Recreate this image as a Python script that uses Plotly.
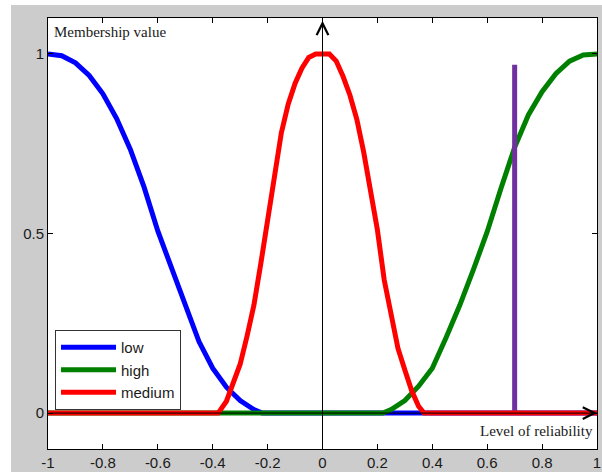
import plotly.graph_objects as go

# ---- data ----
low_x = [-1.0, -0.95, -0.9, -0.85, -0.8, -0.75, -0.7, -0.65, -0.6, -0.55, -0.5,
         -0.45, -0.4, -0.35, -0.3, -0.25, -0.22, 1.0]
low_y = [1.0, 0.995, 0.975, 0.94, 0.889, 0.82, 0.734, 0.629, 0.507, 0.401, 0.295,
         0.199, 0.125, 0.072, 0.035, 0.01, 0.0, 0.0]

high_x = [-1.0, 0.22, 0.25, 0.3, 0.35, 0.4, 0.45, 0.5, 0.55, 0.6, 0.65, 0.7,
          0.75, 0.8, 0.85, 0.9, 0.95, 1.0]
high_y = [0.0, 0.0, 0.01, 0.035, 0.075, 0.125, 0.21, 0.3, 0.4, 0.505, 0.625, 0.74,
          0.83, 0.895, 0.945, 0.98, 0.997, 1.0]

medium_x = [-1.0, -0.38, -0.35, -0.325, -0.3, -0.275, -0.25, -0.225, -0.2, -0.175,
            -0.15, -0.125, -0.1, -0.075, -0.05, -0.025, 0.0, 0.025, 0.05, 0.075,
            0.1, 0.125, 0.15, 0.175, 0.2, 0.225, 0.25, 0.275, 0.3, 0.325, 0.35,
            0.37, 1.0]
medium_y = [0.0, 0.0, 0.033, 0.08, 0.136, 0.214, 0.30, 0.415, 0.535, 0.67,
            0.78, 0.86, 0.918, 0.96, 0.99, 1.0, 1.0, 1.0, 0.98, 0.937,
            0.885, 0.818, 0.727, 0.625, 0.51, 0.37, 0.266, 0.18, 0.12, 0.062, 0.019,
            0.0, 0.0]

marker_x = [0.7, 0.7]
marker_y = [0.0, 0.97]

x_ticks = [-1, -0.8, -0.6, -0.4, -0.2, 0, 0.2, 0.4, 0.6, 0.8, 1]
x_tick_text = ["-1", "-0.8", "-0.6", "-0.4", "-0.2", "0", "0.2", "0.4", "0.6", "0.8", "1"]
y_ticks = [0, 0.5, 1]
y_tick_text = ["0", "0.5", "1"]

sans = "Liberation Sans, Arial, sans-serif"
serif = "Liberation Serif, Times New Roman, serif"

fig = go.Figure()
fig.add_trace(go.Scatter(x=low_x, y=low_y, mode="lines", name="low",
                         line=dict(color="#0000ff", width=5)))
fig.add_trace(go.Scatter(x=high_x, y=high_y, mode="lines", name="high",
                         line=dict(color="#008000", width=5)))
fig.add_trace(go.Scatter(x=marker_x, y=marker_y, mode="lines", showlegend=False,
                         line=dict(color="#7030a0", width=5)))
fig.add_trace(go.Scatter(x=medium_x, y=medium_y, mode="lines", name="medium",
                         line=dict(color="#ff0000", width=5)))

axis_common = dict(showgrid=False, zeroline=False, showline=True, linecolor="black",
                   linewidth=1, mirror="ticks", ticks="inside", ticklen=5,
                   tickcolor="black", automargin=False,
                   tickfont=dict(family=sans, size=15, color="#1a1a1a"))

fig.update_xaxes(range=[-1, 1], tickvals=x_ticks, ticktext=x_tick_text, **axis_common)
fig.update_yaxes(range=[-0.1, 1.1], tickvals=y_ticks, ticktext=y_tick_text, **axis_common)

fig.update_layout(
    width=602, height=472,
    margin=dict(l=48, r=5, t=18, b=23, autoexpand=False),
    paper_bgcolor="white", plot_bgcolor="white",
    legend=dict(x=0.0128, y=0.276, xanchor="left", yanchor="top",
                bgcolor="white", bordercolor="#333333", borderwidth=1,
                itemwidth=55,
                font=dict(family=sans, size=15, color="#1a1a1a")),
    shapes=[
        dict(type="rect", xref="paper", yref="paper", x0=-0.0674, x1=1.02,
             y0=-0.06, y1=1.0302, fillcolor="#cccccc", line=dict(width=0), layer="below"),
        dict(type="rect", xref="paper", yref="paper", x0=0, x1=1, y0=0, y1=1,
             fillcolor="white", line=dict(width=0), layer="below"),
    ],
    annotations=[
        dict(x=1, y=0, ax=-1, ay=0, xref="x", yref="y", axref="x", ayref="y",
             text="", showarrow=True, arrowhead=5, arrowsize=2.3, arrowwidth=1,
             arrowcolor="black"),
        dict(x=0, y=1.092, ax=0, ay=-0.1, xref="x", yref="y", axref="x", ayref="y",
             text="", showarrow=True, arrowhead=5, arrowsize=2.3, arrowwidth=1,
             arrowcolor="black"),
        dict(x=-0.985, y=1.062, xref="x", yref="y", xanchor="left", yanchor="middle",
             text="Membership value", showarrow=False,
             font=dict(family=serif, size=15, color="#1a1a1a")),
        dict(x=0.566, y=-0.05, xref="x", yref="y", xanchor="left", yanchor="middle",
             text="Level of reliability", showarrow=False,
             font=dict(family=serif, size=15, color="#1a1a1a")),
    ],
)

fig.write_html("out.html", config={"displayModeBar": False},
               post_script="document.body.style.margin='0px';document.body.style.overflow='hidden';")
